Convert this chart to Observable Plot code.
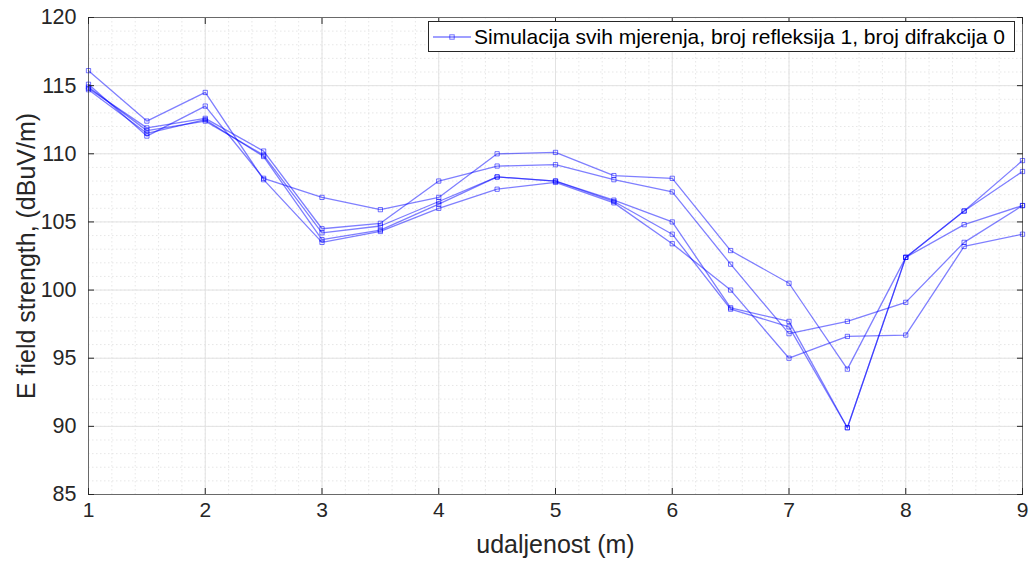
<!DOCTYPE html>
<html>
<head>
<meta charset="utf-8">
<script src="https://cdn.jsdelivr.net/npm/d3@7"></script>
<script src="https://cdn.jsdelivr.net/npm/@observablehq/plot@0.6"></script>
<style>
  html, body { margin: 0; padding: 0; background: #fff; }
  #wrap { position: relative; width: 1030px; height: 568px; font-family: "Liberation Sans", Arial, Helvetica, sans-serif; }
  #legend { position: absolute; left: 428px; top: 21px; width: 587px; height: 31px; background: #fff; border: 1px solid #262626; box-sizing: border-box; display: flex; align-items: center; font-size: 21px; color: #000; white-space: nowrap; }
  #legend svg { margin-left: 4px; margin-right: 3px; }
</style>
</head>
<body>
<div id="wrap"><div id="chart"></div><div id="legend"></div></div>
<script>
// distances (m)
const distances = [1, 1.5, 2, 2.5, 3, 3.5, 4, 4.5, 5, 5.5, 6, 6.5, 7, 7.5, 8, 8.5, 9];
// simulated E field strength (dBuV/m), five runs
const run1 = [116.1, 112.4, 114.5, 108.1, 103.5, 104.3, 106.0, 107.4, 107.9, 106.4, 103.4, 100.0, 95.0, 96.6, 96.7, 103.2, 104.1];
const run2 = [115.1, 111.3, 113.5, 108.2, 106.8, 105.9, 106.8, 110.0, 110.1, 108.4, 108.2, 102.9, 100.5, 94.2, 102.4, 104.8, 106.2];
const run3 = [114.8, 111.9, 112.6, 110.2, 104.5, 104.9, 108.0, 109.1, 109.2, 108.1, 107.2, 101.9, 96.8, 97.7, 99.1, 103.5, 106.2];
const run4 = [114.9, 111.7, 112.4, 109.9, 104.2, 104.7, 106.5, 108.3, 108.0, 106.6, 105.0, 98.7, 97.7, 89.9, 102.4, 105.8, 109.5];
const run5 = [114.7, 111.5, 112.5, 109.8, 103.7, 104.4, 106.3, 108.3, 108.0, 106.5, 104.1, 98.6, 97.3, 89.9, 102.4, 105.8, 108.7];
const runs = [run1, run2, run3, run4, run5];

const xTicks = [1, 2, 3, 4, 5, 6, 7, 8, 9];
const yTicks = [85, 90, 95, 100, 105, 110, 115, 120];
const xMinor = d3.range(1, 9.001, 0.2).map(v => +v.toFixed(2));
const yMinor = d3.range(85, 120.001, 1);

const legendLabel = "Simulacija svih mjerenja, broj refleksija 1, broj difrakcija 0";
const xLabel = "udaljenost (m)";
const yLabel = "E field strength, (dBuV/m)";

const rows = runs.flatMap((r, i) => r.map((v, j) => ({run: i, x: distances[j], y: v})));

const axisColor = "#262626";
const font = '"Liberation Sans", Arial, Helvetica, sans-serif';
const chart = Plot.plot({
  width: 1030,
  height: 568,
  marginLeft: 88,
  marginRight: 8,
  marginTop: 17,
  marginBottom: 74,
  style: {fontFamily: font, fontSize: "21px", color: axisColor, background: "#fff", overflow: "visible"},
  x: {domain: [1, 9]},
  y: {domain: [85, 120]},
  marks: [
    Plot.gridX(xMinor, {stroke: "#dcdcdc", strokeOpacity: 1, strokeDasharray: "1.5,2.5", strokeWidth: 0.7}),
    Plot.gridY(yMinor, {stroke: "#dcdcdc", strokeOpacity: 1, strokeDasharray: "1.5,2.5", strokeWidth: 0.7}),
    Plot.gridX(xTicks, {stroke: "#e2e2e2", strokeOpacity: 1, strokeWidth: 1}),
    Plot.gridY(yTicks, {stroke: "#e2e2e2", strokeOpacity: 1, strokeWidth: 1}),
    Plot.line(rows, {x: "x", y: "y", z: "run", stroke: "#0000ff", strokeOpacity: 0.5, strokeWidth: 1.3}),
    Plot.dot(rows, {x: "x", y: "y", symbol: "square", r: 2.4, stroke: "#0000ff", strokeOpacity: 0.55, strokeWidth: 1, fill: "none"}),
    Plot.frame({stroke: axisColor, strokeWidth: 0.8, strokeOpacity: 0.8}),
    // inward ticks
    Plot.axisX(xTicks, {anchor: "bottom", tickSize: 6, dy: -6, tickFormat: () => "", label: null, stroke: axisColor}),
    Plot.axisX(xTicks, {anchor: "top", tickSize: 6, dy: 6, tickFormat: () => "", label: null, stroke: axisColor}),
    Plot.axisY(yTicks, {anchor: "left", tickSize: 6, dx: 6, tickFormat: () => "", label: null, stroke: axisColor}),
    Plot.axisY(yTicks, {anchor: "right", tickSize: 6, dx: -6, tickFormat: () => "", label: null, stroke: axisColor}),
    // tick labels
    Plot.axisX(xTicks, {anchor: "bottom", tickSize: 0, tickPadding: 8, fontSize: 21, fill: axisColor, tickFormat: d => String(d), label: null}),
    Plot.axisY(yTicks, {anchor: "left", tickSize: 0, tickPadding: 12, fontSize: 21.5, fill: axisColor, tickFormat: d => String(d), label: null}),
    // axis titles
    Plot.text([xLabel], {frameAnchor: "bottom", dy: 58, fontSize: 25, fill: axisColor, text: d => d}),
    Plot.text([yLabel], {frameAnchor: "left", textAnchor: "middle", rotate: -90, dx: -62, fontSize: 25, fill: axisColor, text: d => d})
  ]
});
document.getElementById("chart").appendChild(chart);

// legend
const lg = document.getElementById("legend");
const ns = "http://www.w3.org/2000/svg";
const s = document.createElementNS(ns, "svg");
s.setAttribute("width", "38"); s.setAttribute("height", "10");
const ln = document.createElementNS(ns, "line");
ln.setAttribute("x1", "0"); ln.setAttribute("x2", "38"); ln.setAttribute("y1", "5"); ln.setAttribute("y2", "5");
ln.setAttribute("stroke", "#0000ff"); ln.setAttribute("stroke-opacity", "0.5"); ln.setAttribute("stroke-width", "1.3");
const rc = document.createElementNS(ns, "rect");
rc.setAttribute("x", "16.8"); rc.setAttribute("y", "2.8"); rc.setAttribute("width", "4.4"); rc.setAttribute("height", "4.4");
rc.setAttribute("fill", "none"); rc.setAttribute("stroke", "#0000ff"); rc.setAttribute("stroke-opacity", "0.55");
s.appendChild(ln); s.appendChild(rc);
lg.appendChild(s);
const t = document.createElement("span");
t.textContent = legendLabel;
lg.appendChild(t);
</script>
</body>
</html>
